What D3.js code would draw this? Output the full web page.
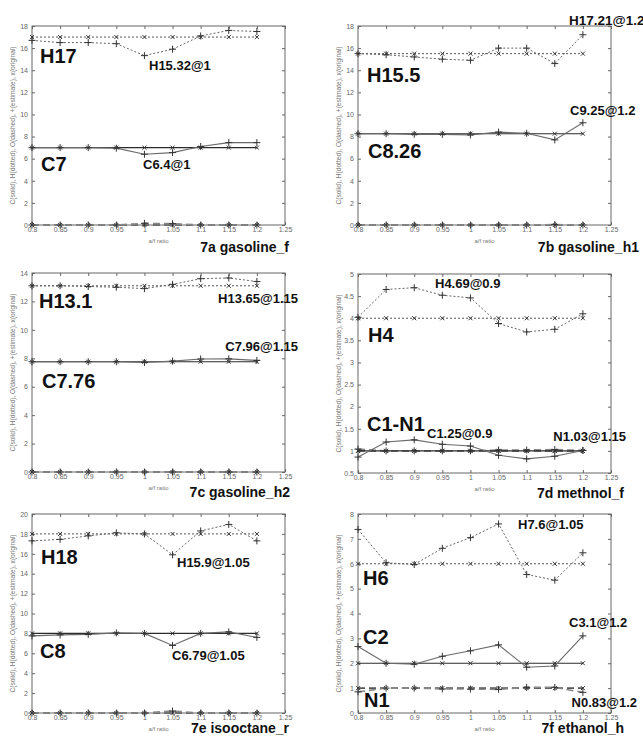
<!DOCTYPE html>
<html>
<head>
<meta charset="utf-8">
<script src="https://cdn.jsdelivr.net/npm/d3@7"></script>
<style>
body { margin: 0; background: #fff; }
svg text { font-family: "Liberation Sans", Arial, sans-serif; }
</style>
</head>
<body>
<script>
const width = 643;
const height = 736;

// x values shared by every panel
const afRatio = [0.8, 0.85, 0.9, 0.95, 1, 1.05, 1.1, 1.15, 1.2];
const xTickValues = [0.8, 0.85, 0.9, 0.95, 1, 1.05, 1.1, 1.15, 1.2, 1.25];
const xTickLabels = ["0.8", "0.85", "0.9", "0.95", "1", "1.05", "1.1", "1.15", "1.2", "1.25"];

// 7a gasoline_f
const aYTicks = [0, 2, 4, 6, 8, 10, 12, 14, 16, 18];
const aHOrig = [17, 17, 17, 17, 17, 17, 17, 17, 17];
const aHEst = [16.7, 16.5, 16.5, 16.4, 15.32, 15.9, 17.1, 17.6, 17.5];
const aCOrig = [7, 7, 7, 7, 7, 7, 7, 7, 7];
const aCEst = [7.0, 7.0, 7.0, 6.95, 6.4, 6.55, 7.1, 7.45, 7.45];
const aOOrig = [0, 0, 0, 0, 0, 0, 0, 0, 0];
const aOEst = [0, 0, 0, 0, 0.15, 0.12, 0, 0, 0];

// 7b gasoline_h1
const bYTicks = [0, 2, 4, 6, 8, 10, 12, 14, 16, 18];
const bHOrig = [15.5, 15.5, 15.5, 15.5, 15.5, 15.5, 15.5, 15.5, 15.5];
const bHEst = [15.5, 15.4, 15.2, 15.0, 14.9, 16.0, 16.0, 14.6, 17.21];
const bCOrig = [8.26, 8.26, 8.26, 8.26, 8.26, 8.26, 8.26, 8.26, 8.26];
const bCEst = [8.26, 8.26, 8.2, 8.2, 8.15, 8.4, 8.3, 7.7, 9.25];
const bOOrig = [0, 0, 0, 0, 0, 0, 0, 0, 0];
const bOEst = [0, 0, 0, 0, 0, 0, 0, 0.04, 0];

// 7c gasoline_h2
const cYTicks = [0, 2, 4, 6, 8, 10, 12, 14];
const cHOrig = [13.1, 13.1, 13.1, 13.1, 13.1, 13.1, 13.1, 13.1, 13.1];
const cHEst = [13.1, 13.1, 13.05, 13.0, 12.9, 13.2, 13.6, 13.65, 13.4];
const cCOrig = [7.76, 7.76, 7.76, 7.76, 7.76, 7.76, 7.76, 7.76, 7.76];
const cCEst = [7.76, 7.76, 7.76, 7.76, 7.7, 7.8, 7.95, 7.96, 7.85];
const cOOrig = [0, 0, 0, 0, 0, 0, 0, 0, 0];
const cOEst = [0, 0, 0, 0, 0, 0, 0, 0, 0];

// 7d methnol_f
const dYTicks = [0.5, 1, 1.5, 2, 2.5, 3, 3.5, 4, 4.5, 5];
const dHOrig = [4, 4, 4, 4, 4, 4, 4, 4, 4];
const dHEst = [4.02, 4.65, 4.69, 4.52, 4.46, 3.88, 3.69, 3.75, 4.1];
const dCOrig = [1, 1, 1, 1, 1, 1, 1, 1, 1];
const dCEst = [0.86, 1.2, 1.25, 1.15, 1.11, 0.9, 0.82, 0.88, 1.01];
const dNOrig = [1, 1, 1, 1, 1, 1, 1, 1, 1];
const dNEst = [1.04, 1.0, 1.0, 1.0, 1.0, 1.02, 1.02, 1.03, 1.01];

// 7e isooctane_r
const eYTicks = [0, 2, 4, 6, 8, 10, 12, 14, 16, 18, 20];
const eHOrig = [18, 18, 18, 18, 18, 18, 18, 18, 18];
const eHEst = [17.3, 17.45, 17.8, 18.1, 18.0, 15.9, 18.3, 18.95, 17.3];
const eCOrig = [8, 8, 8, 8, 8, 8, 8, 8, 8];
const eCEst = [7.75, 7.85, 7.9, 8.05, 8.0, 6.79, 8.0, 8.15, 7.6];
const eOOrig = [0, 0, 0, 0, 0, 0, 0, 0, 0];
const eOEst = [0, 0, 0, 0, 0, 0.2, 0, 0, 0];

// 7f ethanol_h
const fYTicks = [0, 1, 2, 3, 4, 5, 6, 7, 8];
const fHOrig = [6, 6, 6, 6, 6, 6, 6, 6, 6];
const fHEst = [7.38, 6.04, 5.97, 6.62, 7.05, 7.6, 5.57, 5.34, 6.44];
const fCOrig = [2, 2, 2, 2, 2, 2, 2, 2, 2];
const fCEst = [2.67, 2.0, 1.96, 2.28, 2.5, 2.74, 1.84, 1.89, 3.1];
const fNOrig = [1, 1, 1, 1, 1, 1, 1, 1, 1];
const fNEst = [0.85, 1.0, 1.0, 0.97, 0.96, 0.95, 1.03, 1.03, 0.83];

const yLabel = "C(solid), H(dotted), O(dashed), +(estimate), x(original)";

// line looks (matlab style, grey print)
const styles = {
    C: { dash: null, orig: "#2b2b2b", est: "#6a6a6a", w: 1.1 },
    H: { dash: "2,2", orig: "#555", est: "#666", w: 1 },
    O: { dash: "7,4", orig: "#555", est: "#888", w: 1.6 }
};

const panels = [
    { title: "7a gasoline_f", left: 32, top: 26, yDomain: [0, 18], yTicks: aYTicks,
      series: [["O", aOOrig, aOEst], ["C", aCOrig, aCEst], ["H", aHOrig, aHEst]],
      titlePos: [289, 252],
      labels: [["H17", 40, 63, 20], ["H15.32@1", 149, 70, 13], ["C7", 41, 171, 20], ["C6.4@1", 143, 169, 13]] },
    { title: "7b gasoline_h1", left: 358, top: 26, yDomain: [0, 18], yTicks: bYTicks,
      series: [["O", bOOrig, bOEst], ["C", bCOrig, bCEst], ["H", bHOrig, bHEst]],
      titlePos: [639, 252],
      labels: [["H17.21@1.2", 569, 25, 13.5], ["H15.5", 367, 82, 20], ["C9.25@1.2", 570, 115, 13], ["C8.26", 368, 158, 20]] },
    { title: "7c gasoline_h2", left: 32, top: 273, yDomain: [0, 14], yTicks: cYTicks,
      series: [["O", cOOrig, cOEst], ["C", cCOrig, cCEst], ["H", cHOrig, cHEst]],
      titlePos: [290, 497],
      labels: [["H13.1", 39, 308, 20], ["H13.65@1.15", 298, 303, 13, "end"], ["C7.76", 42, 388, 20], ["C7.96@1.15", 298, 351, 13, "end"]] },
    { title: "7d methnol_f", left: 358, top: 274, yDomain: [0.5, 5], yTicks: dYTicks,
      series: [["O", dNOrig, dNEst], ["C", dCOrig, dCEst], ["H", dHOrig, dHEst]],
      titlePos: [624, 498],
      labels: [["H4.69@0.9", 435, 288, 13], ["H4", 368, 342, 20], ["C1-N1", 367, 431, 20], ["C1.25@0.9", 427, 438, 13], ["N1.03@1.15", 626, 441, 13, "end"]] },
    { title: "7e isooctane_r", left: 32, top: 514, yDomain: [0, 20], yTicks: eYTicks,
      series: [["O", eOOrig, eOEst], ["C", eCOrig, eCEst], ["H", eHOrig, eHEst]],
      titlePos: [289, 733],
      labels: [["H18", 41, 564, 20], ["H15.9@1.05", 177, 567, 13], ["C8", 40, 658, 20], ["C6.79@1.05", 172, 660, 13]] },
    { title: "7f ethanol_h", left: 358, top: 514, yDomain: [0, 8], yTicks: fYTicks,
      series: [["O", fNOrig, fNEst], ["C", fCOrig, fCEst], ["H", fHOrig, fHEst]],
      titlePos: [624, 733],
      labels: [["H7.6@1.05", 518, 529, 13], ["H6", 363, 585, 20], ["C3.1@1.2", 569, 627, 13], ["C2", 363, 644, 20], ["N1", 364, 707, 20], ["N0.83@1.2", 637, 707, 13, "end"]] }
];

const plotW = 253;
const plotH = 199;

const plus = "M-3.5,0H3.5M0,-3.5V3.5";
const cross = "M-2,-2L2,2M-2,2L2,-2";

const svg = d3.select("body")
    .append("svg")
    .attr("width", width)
    .attr("height", height)
    .style("background-color", "#fff");

panels.forEach(function(p) {
    const x = d3.scaleLinear().domain([0.8, 1.25]).range([p.left, p.left + plotW]);
    const y = d3.scaleLinear().domain(p.yDomain).range([p.top + plotH, p.top]);

    const g = svg.append("g").attr("class", "panel");

    // axes, ticks pointing inward on all four sides
    g.append("g")
        .attr("transform", "translate(0," + (p.top + plotH) + ")")
        .call(d3.axisBottom(x).tickValues(xTickValues)
            .tickFormat((d, i) => xTickLabels[i])
            .tickSizeInner(-3).tickSizeOuter(0).tickPadding(2.5));
    g.append("g")
        .attr("transform", "translate(0," + p.top + ")")
        .call(d3.axisTop(x).tickValues(xTickValues).tickFormat("")
            .tickSizeInner(-3).tickSizeOuter(0));
    g.append("g")
        .attr("transform", "translate(" + p.left + ",0)")
        .call(d3.axisLeft(y).tickValues(p.yTicks).tickFormat(d3.format("~g"))
            .tickSizeInner(-3).tickSizeOuter(0).tickPadding(4));
    g.append("g")
        .attr("transform", "translate(" + (p.left + plotW) + ",0)")
        .call(d3.axisRight(y).tickValues(p.yTicks).tickFormat("")
            .tickSizeInner(-3).tickSizeOuter(0));

    g.selectAll(".domain").remove();
    g.selectAll(".tick line").attr("stroke", "#666");
    g.selectAll(".tick text").attr("fill", "#666").style("font-size", "7px");

    g.append("rect")
        .attr("x", p.left).attr("y", p.top)
        .attr("width", plotW).attr("height", plotH)
        .attr("fill", "none").attr("stroke", "#666").attr("stroke-width", 1);

    // series: original (x markers) then estimate (+ markers)
    p.series.forEach(function(s) {
        const st = styles[s[0]];
        const line = d3.line().x((d, i) => x(afRatio[i])).y(d => y(d));
        [[s[1], st.orig, cross], [s[2], st.est, plus]].forEach(function(v) {
            g.append("path")
                .datum(v[0])
                .attr("d", line)
                .attr("fill", "none")
                .attr("stroke", v[1])
                .attr("stroke-width", st.w)
                .attr("stroke-dasharray", st.dash);
            g.selectAll(null)
                .data(v[0])
                .enter()
                .append("path")
                .attr("d", v[2])
                .attr("transform", (d, i) => "translate(" + x(afRatio[i]) + "," + y(d) + ")")
                .attr("stroke", "#333")
                .attr("stroke-width", 1)
                .attr("fill", "none");
        });
    });

    // axis titles
    g.append("text")
        .attr("x", p.left + plotW / 2)
        .attr("y", p.top + plotH + 18)
        .attr("text-anchor", "middle")
        .attr("fill", "#777")
        .style("font-size", "6px")
        .text("a/f ratio");
    g.append("text")
        .attr("transform", "translate(" + (p.left - 17) + "," + (p.top + plotH / 2) + ") rotate(-90)")
        .attr("text-anchor", "middle")
        .attr("fill", "#777")
        .style("font-size", "6.6px")
        .text(yLabel);

    // big element labels and annotations
    p.labels.forEach(function(l) {
        g.append("text")
            .attr("x", l[1])
            .attr("y", l[2])
            .attr("text-anchor", l[4] || "start")
            .attr("fill", "#111")
            .style("font-size", l[3] + "px")
            .style("font-weight", "bold")
            .text(l[0]);
    });

    g.append("text")
        .attr("x", p.titlePos[0])
        .attr("y", p.titlePos[1])
        .attr("text-anchor", "end")
        .attr("fill", "#111")
        .style("font-size", "14px")
        .style("font-weight", "bold")
        .text(p.title);
});
</script>
</body>
</html>
